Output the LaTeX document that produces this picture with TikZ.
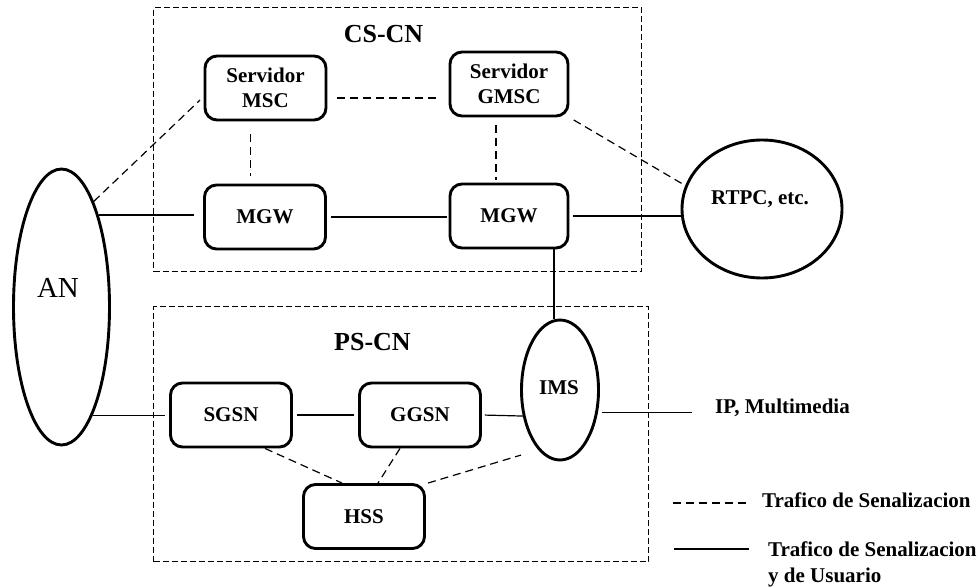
\documentclass[tikz,border=0pt]{standalone}
\usepackage{fontspec}
\setmainfont{Liberation Serif}
\usetikzlibrary{shapes.geometric,calc}

\begin{document}
\begin{tikzpicture}[x=1pt,y=-1pt,
  netbox/.style={draw, line width=2.9pt, rounded corners=12pt, minimum width=121pt,
    minimum height=64pt, inner sep=0pt, align=center,
    font=\fontsize{21}{25}\selectfont\bfseries},
  netoval/.style={draw, ellipse, line width=2.9pt, inner sep=0pt},
  cnarea/.style={draw, line width=1.1pt, dash pattern=on 6pt off 3pt, inner sep=0pt},
  siglink/.style={line width=1.2pt, dash pattern=on 8pt off 5pt},
  userlink/.style={line width=1.2pt},
  lbltext/.style={font=\fontsize{21}{26}\selectfont\bfseries, inner sep=0pt},
  areatitle/.style={font=\fontsize{26}{30}\selectfont\bfseries, inner sep=0pt}
]
\useasboundingbox (0,0) rectangle (980,588);

% core network domains
\node[cnarea, anchor=north west, minimum width=488pt, minimum height=264pt] (cs) at (153,7) {};
\node[cnarea, anchor=north west, minimum width=495pt, minimum height=255pt] (ps) at (153,306) {};
\node[areatitle, anchor=base] (cstitle) at (383.5,43) {CS-CN};
\node[areatitle, anchor=base] (pstitle) at (372.5,350) {PS-CN};

% circuit switched elements
\node[netbox] (msc) at (265.5,88) {Servidor\\MSC};
\node[netbox, minimum width=118pt] (gmsc) at (509,84) {Servidor\\GMSC};
\node[netbox] (mgw1) at (265,217) {MGW};
\node[netbox, minimum width=118pt] (mgw2) at (509,216) {MGW};

% packet switched elements
\node[netbox] (sgsn) at (231,415) {SGSN};
\node[netbox] (ggsn) at (420,415) {GGSN};
\node[netbox] (hss) at (364,516.5) {HSS};

% access network, external networks and IMS
\node[netoval, minimum width=96pt, minimum height=276pt] (an) at (61.5,307) {};
\node[font=\fontsize{29}{34}\selectfont, inner sep=0pt, anchor=base] (antext) at (58,297) {AN};
\node[netoval, minimum width=160pt, minimum height=138pt] (rtpc) at (762,209) {};
\node[lbltext, anchor=base] (rtpctext) at (760,205) {RTPC, etc.};
\node[netoval, minimum width=77pt, minimum height=140pt] (ims) at (560,390) {};
\node[lbltext, anchor=base] (imstext) at (559,394) {IMS};
\node[lbltext, anchor=base west] (ip) at (715,413) {IP, Multimedia};

% signalling links
\draw[siglink, shorten >=5pt] (an.73) -- (msc.188);
\draw[siglink, shorten <=10pt, shorten >=12pt] ([yshift=-10pt]msc.east) -- ([yshift=-10pt]msc.east -| gmsc.west);
\draw[siglink, shorten <=13pt, shorten >=8pt] ([xshift=-15pt]msc.south) -- ([xshift=-15pt]msc.south |- mgw1.north);
\draw[siglink, shorten <=8pt, shorten >=3pt] ([xshift=-13pt]gmsc.south) -- ([xshift=-13pt]gmsc.south |- mgw2.north);
\draw[siglink, shorten <=5pt] (gmsc.south east) -- (rtpc.163);
\draw[siglink] ([xshift=34pt]sgsn.south) -- ([xshift=-22pt]hss.north);
\draw[siglink] ([xshift=-20pt]ggsn.south) -- ([xshift=14pt]hss.north);
\draw[siglink, shorten >=18pt] ([xshift=64pt]hss.north) -- (ims.250);

% signalling and user traffic links
\draw[userlink, shorten >=9pt] (an.68) -- (an.68 -| mgw1.west);
\draw[userlink, shorten <=4pt, shorten >=2pt] (mgw1.east) -- (mgw1.east -| mgw2.west);
\draw[userlink, shorten <=4pt] (mgw2.east) -- (mgw2.east -| rtpc.west);
\draw[userlink] ([xshift=45pt]mgw2.south) -- ([xshift=45pt]mgw2.south |- ims.north);
\draw[userlink, shorten >=4pt] (an.-74) -- (an.-74 -| sgsn.west);
\draw[userlink, shorten <=4pt, shorten >=4pt] (sgsn.east) -- (ggsn.west);
\draw[userlink, shorten <=3pt] (ggsn.east) -- (ims.215);
\draw[userlink, shorten <=4pt, shorten >=23pt] (ims.-31) -- (ims.-31 -| ip.west);

% legend
\coordinate (l1a) at (673,503);
\coordinate (l1b) at (749,503);
\coordinate (l2a) at (674,549);
\coordinate (l2b) at (749,549);
\draw[siglink] (l1a) -- (l1b);
\draw[userlink] (l2a) -- (l2b);
\node[lbltext, anchor=base west] (leg1) at (762,507) {Trafico de Senalizacion};
\node[lbltext, anchor=north west, align=left] (leg2) at (768,541.5) {Trafico de Senalizacion\\y de Usuario};
\end{tikzpicture}
\end{document}
